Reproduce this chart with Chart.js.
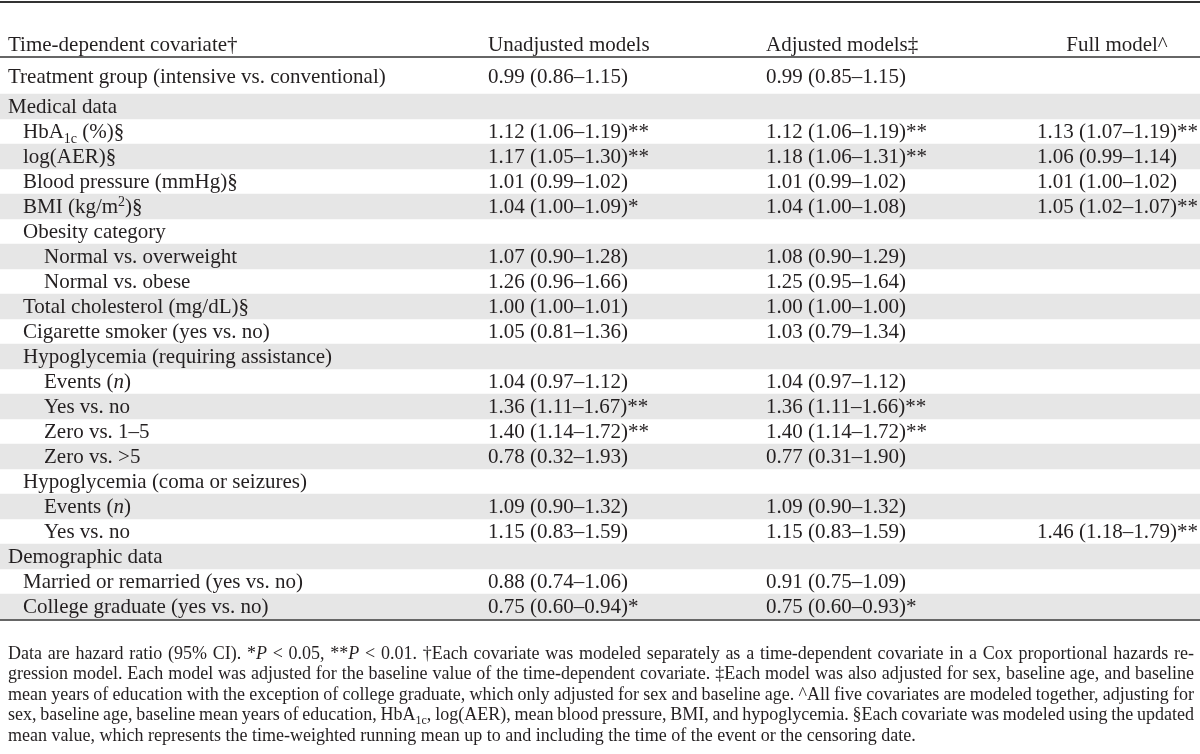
<!DOCTYPE html>
<html>
<head>
<meta charset="utf-8">
<script src="https://cdn.jsdelivr.net/npm/chart.js@4.4.1/dist/chart.umd.min.js"></script>
<style>
  html, body { margin: 0; padding: 0; background: #fff; }
  canvas { display: block; }
</style>
</head>
<body>
<canvas id="table" width="1200" height="754"></canvas>
<script>
// table rows, top to bottom (simple tags: <i>, <sub>, <sup>)
const rowLabels = [
  "Treatment group (intensive vs. conventional)",
  "Medical data",
  "HbA<sub>1c</sub> (%)§",
  "log(AER)§",
  "Blood pressure (mmHg)§",
  "BMI (kg/m<sup>2</sup>)§",
  "Obesity category",
  "Normal vs. overweight",
  "Normal vs. obese",
  "Total cholesterol (mg/dL)§",
  "Cigarette smoker (yes vs. no)",
  "Hypoglycemia (requiring assistance)",
  "Events (<i>n</i>)",
  "Yes vs. no",
  "Zero vs. 1–5",
  "Zero vs. >5",
  "Hypoglycemia (coma or seizures)",
  "Events (<i>n</i>)",
  "Yes vs. no",
  "Demographic data",
  "Married or remarried (yes vs. no)",
  "College graduate (yes vs. no)"
];
const rowIndent = [0, 0, 1, 1, 1, 1, 1, 2, 2, 1, 1, 1, 2, 2, 2, 2, 1, 2, 2, 0, 1, 1];

const unadjusted = [
  "0.99 (0.86–1.15)", "", "1.12 (1.06–1.19)**", "1.17 (1.05–1.30)**", "1.01 (0.99–1.02)",
  "1.04 (1.00–1.09)*", "", "1.07 (0.90–1.28)", "1.26 (0.96–1.66)", "1.00 (1.00–1.01)",
  "1.05 (0.81–1.36)", "", "1.04 (0.97–1.12)", "1.36 (1.11–1.67)**", "1.40 (1.14–1.72)**",
  "0.78 (0.32–1.93)", "", "1.09 (0.90–1.32)", "1.15 (0.83–1.59)", "",
  "0.88 (0.74–1.06)", "0.75 (0.60–0.94)*"
];
const adjusted = [
  "0.99 (0.85–1.15)", "", "1.12 (1.06–1.19)**", "1.18 (1.06–1.31)**", "1.01 (0.99–1.02)",
  "1.04 (1.00–1.08)", "", "1.08 (0.90–1.29)", "1.25 (0.95–1.64)", "1.00 (1.00–1.00)",
  "1.03 (0.79–1.34)", "", "1.04 (0.97–1.12)", "1.36 (1.11–1.66)**", "1.40 (1.14–1.72)**",
  "0.77 (0.31–1.90)", "", "1.09 (0.90–1.32)", "1.15 (0.83–1.59)", "",
  "0.91 (0.75–1.09)", "0.75 (0.60–0.93)*"
];
const fullModel = [
  "", "", "1.13 (1.07–1.19)**", "1.06 (0.99–1.14)", "1.01 (1.00–1.02)",
  "1.05 (1.02–1.07)**", "", "", "", "",
  "", "", "", "", "",
  "", "", "", "1.46 (1.18–1.79)**", "",
  "", ""
];

const columnHeaders = ["Time-dependent covariate†", "Unadjusted models", "Adjusted models‡", "Full model^"];

const footnotes = [
  "Data are hazard ratio (95% CI). *<i>P</i> < 0.05, **<i>P</i> < 0.01. †Each covariate was modeled separately as a time-dependent covariate in a Cox proportional hazards re-",
  "gression model. Each model was adjusted for the baseline value of the time-dependent covariate. ‡Each model was also adjusted for sex, baseline age, and baseline",
  "mean years of education with the exception of college graduate, which only adjusted for sex and baseline age. ^All five covariates are modeled together, adjusting for",
  "sex, baseline age, baseline mean years of education, HbA<sub>1c</sub>, log(AER), mean blood pressure, BMI, and hypoglycemia. §Each covariate was modeled using the updated",
  "mean value, which represents the time-weighted running mean up to and including the time of the event or the censoring date."
];

// x positions (in table units 0..1200) of the text columns
const colX = [8, 488, 766, 1037];
const indentX = [0, 15, 36];
const FONT = '"Liberation Serif", "Times New Roman", serif';
const INK = '#231f20';

function parseRich(str) {
  const runs = [];
  const re = /<(\/?)(i|sub|sup)>/g;
  let style = 'n', last = 0, m;
  while ((m = re.exec(str))) {
    if (m.index > last) runs.push({ t: str.slice(last, m.index), s: style });
    style = m[1] ? 'n' : m[2];
    last = re.lastIndex;
  }
  if (last < str.length) runs.push({ t: str.slice(last), s: style });
  return runs;
}

function runFont(s, size) {
  if (s === 'sub' || s === 'sup') return `${Math.round(size * 0.68)}px ${FONT}`;
  if (s === 'i') return `italic ${size}px ${FONT}`;
  return `${size}px ${FONT}`;
}

function runWidth(ctx, runs, size) {
  let w = 0;
  runs.forEach(r => { ctx.font = runFont(r.s, size); w += ctx.measureText(r.t).width; });
  return w;
}

function drawRuns(ctx, runs, x, base, size) {
  runs.forEach(r => {
    ctx.font = runFont(r.s, size);
    let dy = 0;
    if (r.s === 'sub') dy = size * 0.22;
    if (r.s === 'sup') dy = -size * 0.36;
    ctx.fillText(r.t, x, base + dy);
    x += ctx.measureText(r.t).width;
  });
  return x;
}

function drawRich(ctx, str, x, cy, size, align) {
  const runs = parseRich(str);
  const base = cy + size * 0.32;
  if (align === 'center') x -= runWidth(ctx, runs, size) / 2;
  drawRuns(ctx, runs, x, base, size);
}

// justified footnote line
function drawJustified(ctx, str, x0, x1, cy, size, justify) {
  const runs = parseRich(str);
  const words = [[]];
  runs.forEach(r => {
    r.t.split(' ').forEach((piece, k) => {
      if (k > 0) words.push([]);
      if (piece) words[words.length - 1].push({ t: piece, s: r.s });
    });
  });
  const widths = words.map(w => runWidth(ctx, w, size));
  const total = widths.reduce((a, b) => a + b, 0);
  ctx.font = runFont('n', size);
  let gap = ctx.measureText(' ').width;
  if (justify) gap = (x1 - x0 - total) / (words.length - 1);
  let x = x0;
  const base = cy + size * 0.32;
  words.forEach((w, i) => {
    drawRuns(ctx, w, x, base, size);
    x += widths[i] + gap;
  });
}

const tableText = {
  id: 'tableText',
  afterDraw(chart) {
    const ctx = chart.ctx;
    const xs = chart.scales.x, ys = chart.scales.y;
    const area = chart.chartArea;
    ctx.save();
    ctx.fillStyle = INK;
    ctx.strokeStyle = '#333';

    // rules
    ctx.lineWidth = 2;
    ctx.beginPath(); ctx.moveTo(0, 2); ctx.lineTo(1200, 2); ctx.stroke();
    ctx.lineWidth = 1.6;
    ctx.beginPath(); ctx.moveTo(0, area.top - 12); ctx.lineTo(1200, area.top - 12); ctx.stroke();
    ctx.beginPath(); ctx.moveTo(0, area.bottom + 1); ctx.lineTo(1200, area.bottom + 1); ctx.stroke();

    // header
    const hy = area.top - 25;
    const size = 21;
    drawRich(ctx, columnHeaders[0], xs.getPixelForValue(colX[0]), hy, size);
    drawRich(ctx, columnHeaders[1], xs.getPixelForValue(colX[1]), hy, size);
    drawRich(ctx, columnHeaders[2], xs.getPixelForValue(colX[2]), hy, size);
    drawRich(ctx, columnHeaders[3], xs.getPixelForValue(1117), hy, size, 'center');

    // body
    rowLabels.forEach((label, i) => {
      const cy = ys.getPixelForValue(i) - (i === 0 ? 5 : 0);
      drawRich(ctx, label, xs.getPixelForValue(colX[0] + indentX[rowIndent[i]]), cy, size);
      [unadjusted, adjusted, fullModel].forEach((col, c) => {
        if (col[i]) drawRich(ctx, col[i], xs.getPixelForValue(colX[c + 1]), cy, size);
      });
    });

    // footnotes
    footnotes.forEach((line, k) => {
      drawJustified(ctx, line, 8, 1194, area.bottom + 34 + k * 20.5, 18, k < footnotes.length - 1);
    });
    ctx.restore();
  }
};

new Chart(document.getElementById('table'), {
  type: 'bar',
  data: {
    labels: rowLabels,
    datasets: [{
      data: rowLabels.map((_, i) => (i % 2 === 1 ? [0, 1200] : null)),
      backgroundColor: '#e6e6e6',
      borderWidth: 0,
      barPercentage: 1,
      categoryPercentage: 1
    }]
  },
  options: {
    indexAxis: 'y',
    responsive: false,
    animation: false,
    devicePixelRatio: 1,
    layout: { padding: { top: 69, bottom: 135, left: 0, right: 0 } },
    scales: {
      x: { type: 'linear', min: 0, max: 1200, display: false },
      y: { type: 'category', display: false }
    },
    plugins: { legend: { display: false }, tooltip: { enabled: false } }
  },
  plugins: [tableText]
});
</script>
</body>
</html>
